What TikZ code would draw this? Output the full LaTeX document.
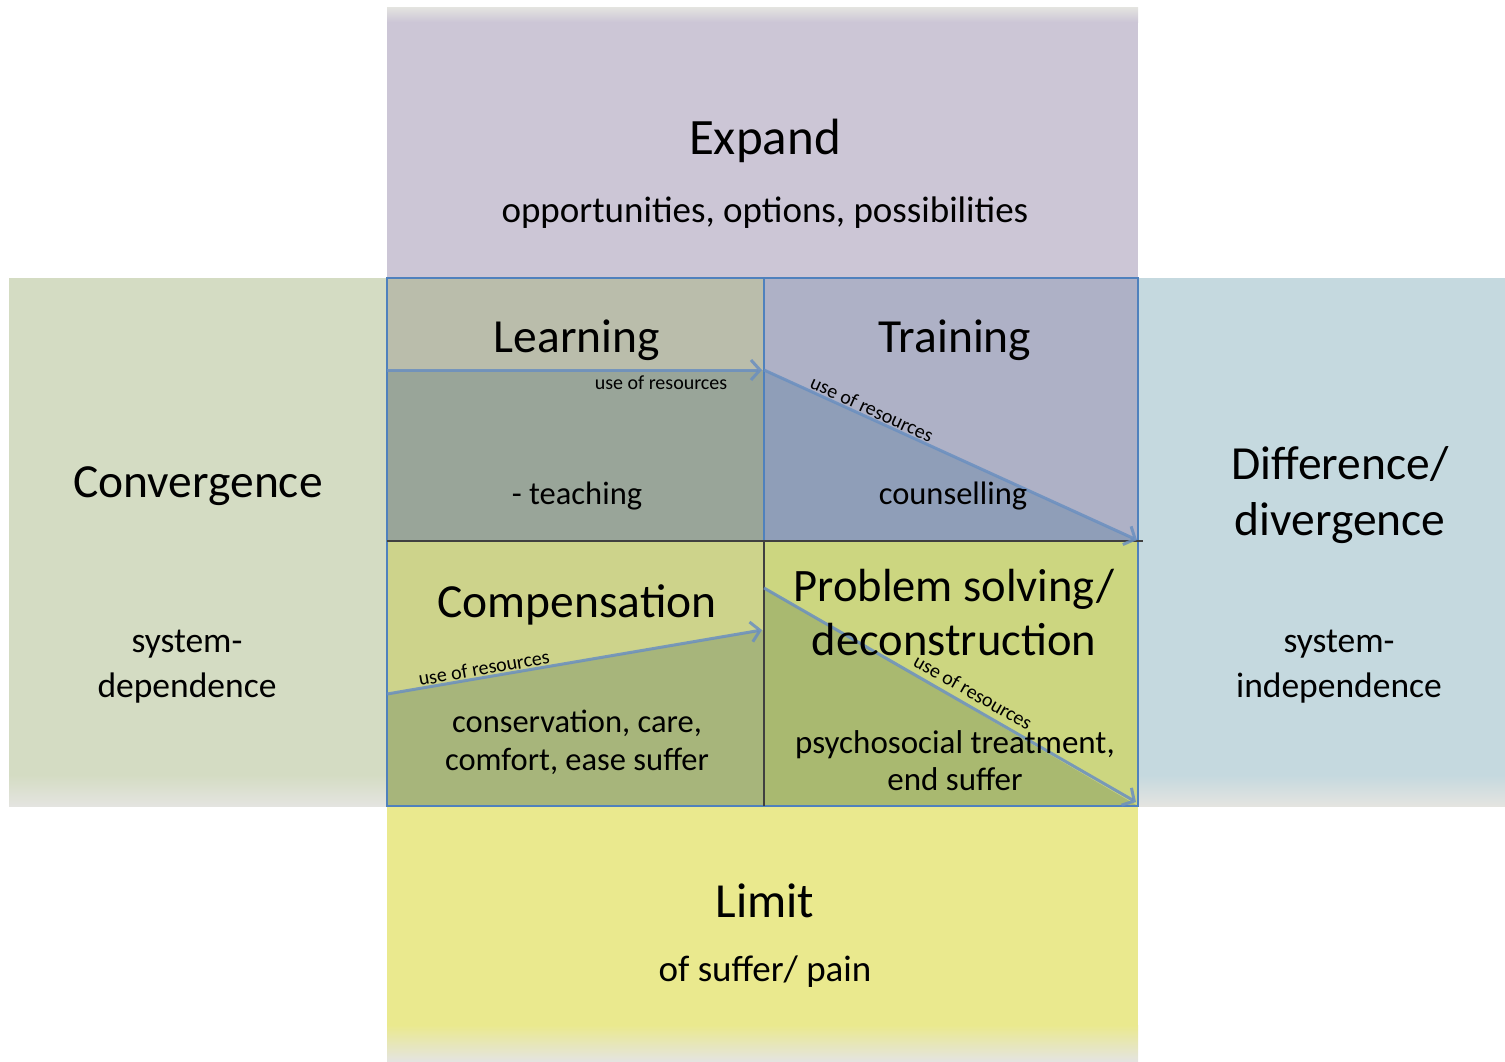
\documentclass[tikz,border=0pt]{standalone}
\usepackage{fontspec}
\setmainfont{Carlito}
\usetikzlibrary{arrows.meta}

\definecolor{expandbg}{HTML}{CCC6D6}
\definecolor{convbg}{HTML}{D4DCC3}
\definecolor{divbg}{HTML}{C5D9DF}
\definecolor{limitbg}{HTML}{EAE98E}
\definecolor{learnlt}{HTML}{BABDAB}
\definecolor{learndk}{HTML}{99A599}
\definecolor{trainlt}{HTML}{AEB1C6}
\definecolor{traindk}{HTML}{8F9EB8}
\definecolor{complt}{HTML}{CDD38B}
\definecolor{compdk}{HTML}{A7B57B}
\definecolor{problt}{HTML}{CCD680}
\definecolor{probdk}{HTML}{A9B970}
\definecolor{cellblue}{HTML}{4F81BD}
\definecolor{arrowblue}{HTML}{6A8FC0}
\definecolor{fadegray}{HTML}{E4E4E0}

\begin{document}
\begin{tikzpicture}[x=1pt, y=-1pt,
  title/.style={font=\fontsize{47.5}{56}\selectfont, yshift=-3pt},
  body/.style={font=\fontsize{32.5}{38}\selectfont, yshift=-2pt},
  bandsub/.style={font=\fontsize{35.5}{45}\selectfont, yshift=-4pt},
  small/.style={font=\fontsize{20}{22}\selectfont, inner sep=1pt},
  cellline/.style={draw=cellblue, line width=1.5pt},
  resarrow/.style={-{Straight Barb[length=9pt,width=20pt]}, line width=3pt, arrowblue, opacity=0.85}]

\useasboundingbox (0,0) rectangle (1505,1061);

% bands
\fill[expandbg] (387,7) rectangle (1138,278);
\shade[top color=fadegray, bottom color=expandbg] (387,7) rectangle (1138,22);
\fill[convbg] (9,278) rectangle (387,806);
\shade[top color=convbg, bottom color=fadegray] (9,775) rectangle (387,806);
\fill[divbg] (1138,278) rectangle (1505,806);
\shade[top color=divbg, bottom color=fadegray] (1138,775) rectangle (1505,806);
\fill[limitbg] (387,806) rectangle (1138,1061);
\shade[top color=limitbg, bottom color=fadegray] (387,1025) rectangle (1138,1061);

% cells
\fill[learnlt] (387,278) rectangle (764,541);
\fill[learndk] (387,370) rectangle (764,541);
\fill[trainlt] (764,278) rectangle (1138,541);
\fill[traindk] (764,370) -- (1138,541) -- (764,541) -- cycle;
\fill[complt] (387,541) rectangle (764,806);
\fill[compdk] (387,694) -- (764,630) -- (764,806) -- (387,806) -- cycle;
\fill[problt] (764,541) rectangle (1138,806);
\fill[probdk] (764,588) -- (1138,806) -- (764,806) -- cycle;

\begin{scope}[cellline]
\draw (387,278) rectangle (764,541);
\draw (764,278) rectangle (1138,541);
\draw (387,541) rectangle (764,806);
\draw (764,541) rectangle (1138,806);
\end{scope}
\draw[black!75, line width=1.5pt] (387,541) -- (1143,541);
\draw[black!75, line width=1.5pt] (764,541) -- (764,806);

% arrow ends
\coordinate (l0) at (387,370);
\coordinate (l1) at (762,370);
\coordinate (t0) at (764,370);
\coordinate (t1) at (1137,540);
\coordinate (c0) at (387,694);
\coordinate (c1) at (762,630);
\coordinate (p0) at (764,588);
\coordinate (p1) at (1136,802);

\draw[resarrow] (l0) -- (l1); %learning
\draw[resarrow] (t0) -- (t1); %training
\draw[resarrow] (c0) -- (c1); %compensation
\draw[resarrow] (p0) -- (p1); %problem solving

\node[small] (lres) at (661,383) {use of resources};
\node[small, rotate=-24.6] (tres) at (872,409) {use of resources};
\node[small, rotate=9.7] (cres) at (484,668) {use of resources};
\node[small, rotate=-29.7] (pres) at (973,692) {use of resources};

% texts
\node[title, font=\fontsize{51}{56}\selectfont] (expand) at (765,138) {Expand};
\node[bandsub, font=\fontsize{37}{44}\selectfont] (expandsub) at (765,209) {opportunities, options, possibilities};
\node[title] (conv) at (198,483) {Convergence};
\node[bandsub, align=center] (convsub) at (187,663) {system-\\dependence};
\node[title, align=center] (div) at (1340,492) {Difference/\\divergence};
\node[bandsub, align=center] (divsub) at (1339,663) {system-\\independence};
\node[title, font=\fontsize{49}{56}\selectfont] (limit) at (765,898) {Limit};
\node[bandsub, font=\fontsize{37}{44}\selectfont] (limitsub) at (765,968) {of suffer/ pain};

\node[title] (learn) at (577,337) {Learning};
\node[body] (teach) at (577,494) {- teaching};
\node[title] (train) at (955,337) {Training};
\node[body] (couns) at (953,494) {counselling};
\node[title] (comp) at (577,602) {Compensation};
\node[body, align=center] (cons) at (577,740) {conservation, care,\\comfort, ease suffer};
\node[title, font=\fontsize{46.5}{54}\selectfont, align=center] (prob) at (954,610) {Problem solving/\\deconstruction};
\node[body, font=\fontsize{33}{37}\selectfont, align=center] (psy) at (955,759) {psychosocial treatment,\\end suffer};

\end{tikzpicture}
\end{document}
